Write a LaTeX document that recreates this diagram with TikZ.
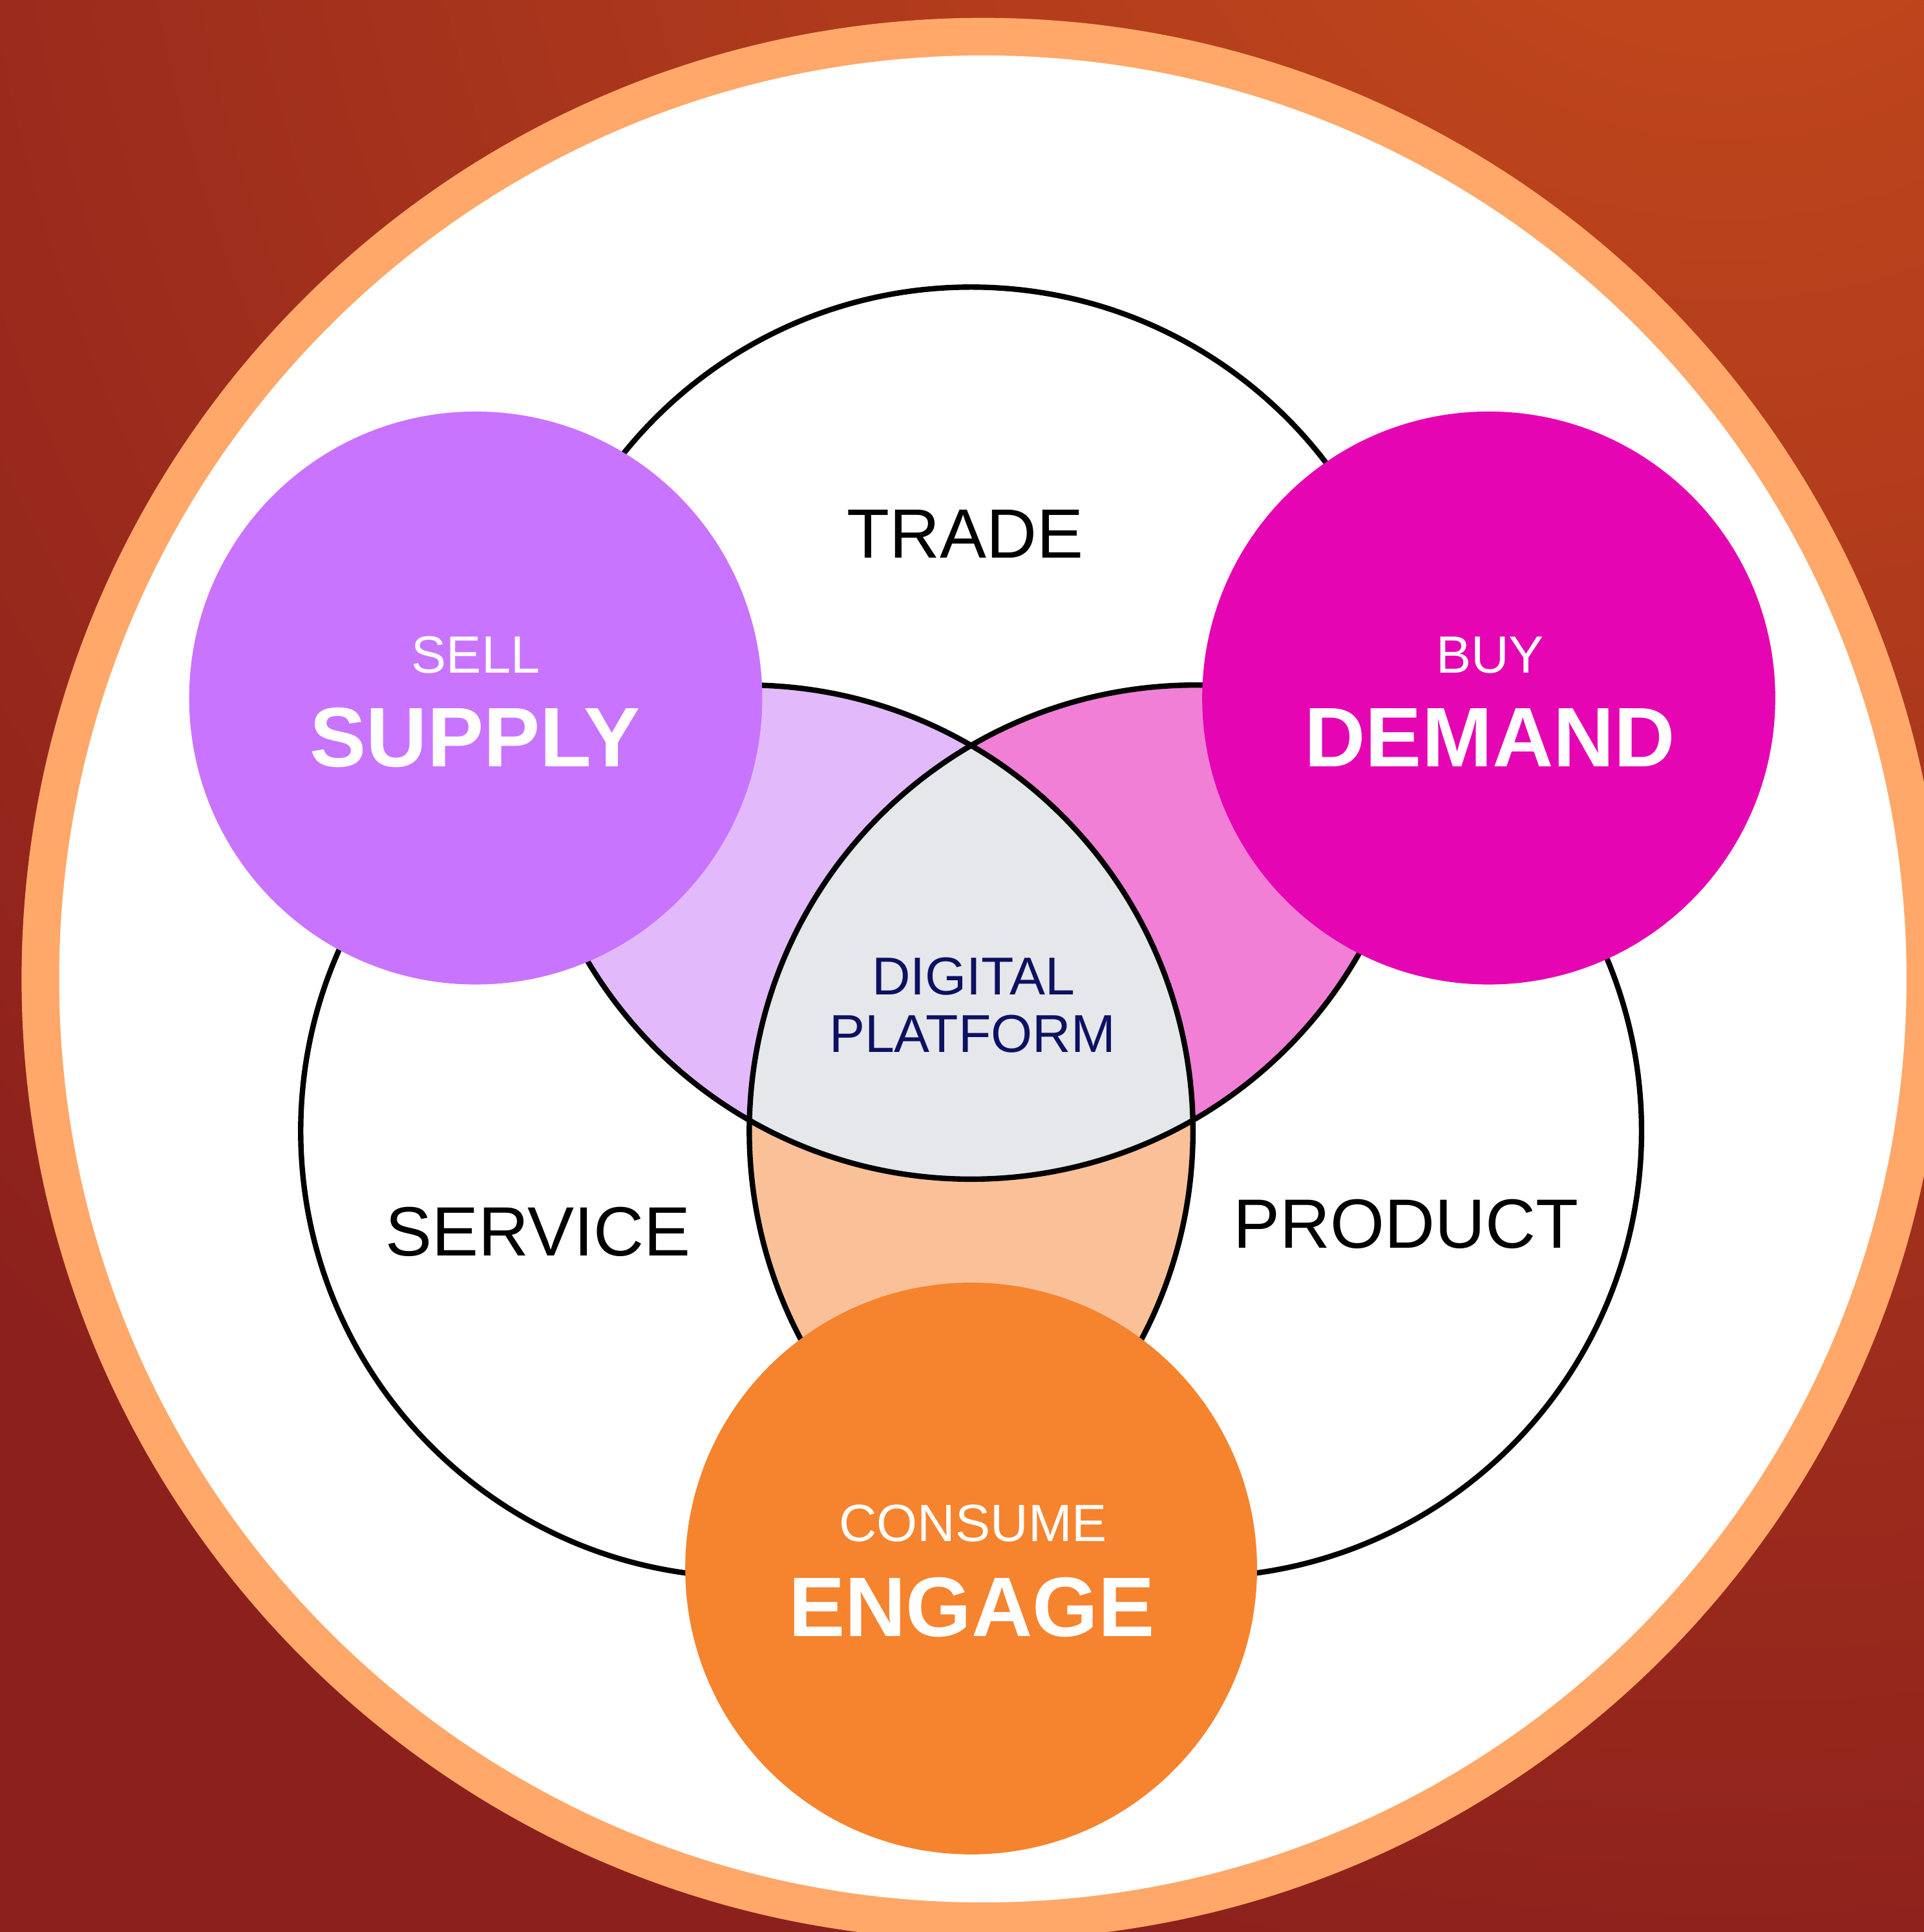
\documentclass[tikz,border=0pt]{standalone}
\usepackage{fontspec}
\setmainfont{Liberation Sans}
\definecolor{bgouter}{HTML}{8C201C}
\definecolor{bginner}{HTML}{C64B1C}
\definecolor{ringc}{HTML}{FFA869}
\definecolor{lavc}{HTML}{E2BAFC}
\definecolor{pinkc}{HTML}{F27FD6}
\definecolor{peachc}{HTML}{FAC199}
\definecolor{grayc}{HTML}{E5E7EA}
\definecolor{supplyc}{HTML}{C974FF}
\definecolor{demandc}{HTML}{E505B2}
\definecolor{engagec}{HTML}{F6832E}
\definecolor{navyc}{HTML}{0D1162}
\tikzset{
  vennline/.style={draw=black, line width=1.25pt},
  biglabel/.style={anchor=base, inner sep=0pt, text=black, font=\fontsize{16.1}{19}\selectfont},
  midlabel/.style={anchor=base, inner sep=0pt, text=navyc, font=\fontsize{12.3}{13.2}\selectfont},
  smalllabel/.style={anchor=base, inner sep=0pt, text=white, font=\fontsize{12.1}{14}\selectfont},
  boldlabel/.style={anchor=base, inner sep=0pt, text=white, font=\fontsize{19.5}{22}\selectfont\bfseries}
}
\begin{document}
\begin{tikzpicture}[x=0.01cm,y=0.01cm]
\useasboundingbox (0,0) rectangle (1561,1568);
% background
\fill[bgouter] (0,0) rectangle (1561,1568);
\begin{scope}
  \clip (0,0) rectangle (1561,1568);
  \shade[inner color=bginner, outer color=bgouter] (1400,1800) circle (1900);
\end{scope}
% outer ring
\coordinate (O) at (797.5,773.5);
\fill[ringc] (O) circle (780);
\fill[white] (O) circle (749.5);
% venn centres
\coordinate (T) at (788,973);
\coordinate (L) at (606,650);
\coordinate (R) at (970,650);
\begin{scope}
  \clip (T) circle (362);
  \fill[lavc] (L) circle (362);
\end{scope}
\begin{scope}
  \clip (T) circle (362);
  \fill[pinkc] (R) circle (362);
\end{scope}
\begin{scope}
  \clip (L) circle (362);
  \fill[peachc] (R) circle (362);
\end{scope}
\begin{scope}
  \clip (T) circle (362);
  \clip (L) circle (362);
  \fill[grayc] (R) circle (362);
\end{scope}
\draw[vennline] (T) circle (362) (L) circle (362) (R) circle (362);
% coloured circles
\fill[supplyc] (386,1001.5) circle (232.5);
\fill[demandc] (1208,1001.5) circle (232.5);
\fill[engagec] (788,295) circle (232);
% labels
\node[biglabel] (trade) at (783,1115) {TRADE};
\node[biglabel] (service) at (436.5,549) {SERVICE};
\node[biglabel] (product) at (1141,555) {PRODUCT};
\node[midlabel] (digital) at (790,760.5) {DIGITAL};
\node[midlabel] (platform) at (789,714) {PLATFORM};
\node[smalllabel] (sell) at (386,1022) {SELL};
\node[boldlabel] (supply) at (385.5,946) {SUPPLY};
\node[smalllabel] (buy) at (1209,1022) {BUY};
\node[boldlabel] (demand) at (1209,946) {DEMAND};
\node[smalllabel] (consume) at (789.5,317) {CONSUME};
\node[boldlabel] (engage) at (788.5,240) {ENGAGE};
\end{tikzpicture}
\end{document}
